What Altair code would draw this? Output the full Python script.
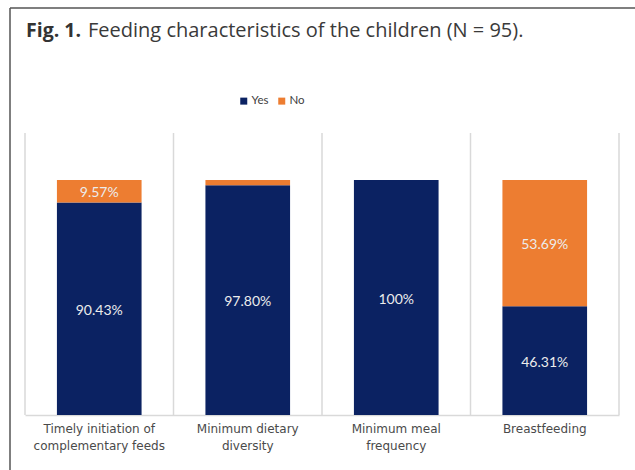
import altair as alt
import pandas as pd

categories = ["Timely initiation of|complementary feeds", "Minimum dietary|diversity",
              "Minimum meal|frequency", "Breastfeeding"]
yes_values = [90.43, 97.80, 100.0, 46.31]
no_values = [9.57, 2.20, 0.0, 53.69]
yes_labels = ["90.43%", "97.80%", "100%", "46.31%"]
no_labels = ["9.57%", "", "", "53.69%"]
series = ["Yes", "No"]
colors = ["#0b2262", "#ed7d31"]
title_bold = "Fig. 1."
title_rest = "Feeding characteristics of the children (N = 95)."

rows = []
for i, c in enumerate(categories):
    rows.append(dict(category=c, response="Yes", ord=0, value=yes_values[i], label=yes_labels[i]))
    rows.append(dict(category=c, response="No", ord=1, value=no_values[i], label=no_labels[i]))
df = pd.DataFrame(rows)
cat_df = pd.DataFrame({"category": categories})

W, H = 594, 282
x_scale = alt.Scale(type="band", domain=categories, paddingInner=0, paddingOuter=0)
y_scale = alt.Scale(domain=[0, 120], nice=False, zero=True)

x_axis = alt.Axis(
    title=None, grid=False, ticks=False, domain=True, domainColor="#d9d9d9", domainWidth=1.5,
    labelExpr="split(datum.label, '|')", labelAngle=0, labelFont="DejaVu Sans",
    labelFontSize=12, labelColor="#4a4a4a", labelPadding=8, labelLineHeight=17,
    labelBaseline="top", labelAlign="center",
)

stacked = alt.Chart(df).transform_stack(
    stack="value", groupby=["category"], as_=["y0", "y1"],
    sort=[alt.SortField("ord", order="ascending")],
).transform_calculate(mid="(datum.y0 + datum.y1) / 2")

rules = alt.Chart(cat_df).mark_rule(color="#d9d9d9", strokeWidth=1.5).encode(
    x=alt.X("category:N", scale=x_scale, bandPosition=0, axis=x_axis),
    y=alt.value(0), y2=alt.value(H),
)
rule_end = alt.Chart(cat_df).transform_filter(
    alt.datum.category == categories[-1]
).mark_rule(color="#d9d9d9", strokeWidth=1.5).encode(
    x=alt.X("category:N", scale=x_scale, bandPosition=1, axis=x_axis),
    y=alt.value(0), y2=alt.value(H),
)

bars = stacked.mark_bar(width=alt.RelativeBandSize(0.57)).encode(
    x=alt.X("category:N", scale=x_scale, axis=x_axis),
    y=alt.Y("y0:Q", scale=y_scale, axis=None),
    y2="y1:Q",
    color=alt.Color("response:N", scale=alt.Scale(domain=series, range=colors),
                    legend=alt.Legend(title=None, orient="none", legendX=213, legendY=-38,
                                      direction="horizontal", symbolType="square",
                                      symbolSize=49, labelFont="Lato", labelFontSize=11.5,
                                      labelColor="#404040", columnPadding=7, labelOffset=2,
                                      padding=0)),
)

labels = stacked.transform_filter(alt.datum.label != "").mark_text(
    font="Lato", fontSize=14, color="#ececec", baseline="middle", align="center", dy=2
).encode(
    x=alt.X("category:N", scale=x_scale, axis=x_axis),
    y=alt.Y("mid:Q", scale=y_scale, axis=None),
    text="label:N",
)

t1 = alt.Chart(pd.DataFrame({"t": [title_bold]})).mark_text(
    font="Open Sans", fontSize=19.5, fontWeight="bold", color="#333333",
    align="left", baseline="alphabetic"
).encode(x=alt.value(1), y=alt.value(-96), text="t:N")
t2 = alt.Chart(pd.DataFrame({"t": [title_rest]})).mark_text(
    font="Open Sans", fontSize=20, color="#3a3a3a", align="left", baseline="alphabetic"
).encode(x=alt.value(63), y=alt.value(-96), text="t:N")

frame_top = alt.Chart(pd.DataFrame({"a": [0]})).mark_rule(color="#555555", strokeWidth=1.5).encode(
    x=alt.value(-15), x2=alt.value(615), y=alt.value(-125)
)
frame_left = alt.Chart(pd.DataFrame({"a": [0]})).mark_rule(color="#555555", strokeWidth=1.5).encode(
    x=alt.value(-15), y=alt.value(-125), y2=alt.value(345)
)

chart = alt.layer(rules, rule_end, bars, labels, t1, t2, frame_top, frame_left).properties(
    width=W, height=H,
    autosize=alt.AutoSizeParams(type="none"),
    padding={"left": 25, "top": 133, "right": 16, "bottom": 55},
    background="white",
).configure_view(stroke=None)

chart.save("out.html", embed_options={"renderer": "svg", "actions": False})
